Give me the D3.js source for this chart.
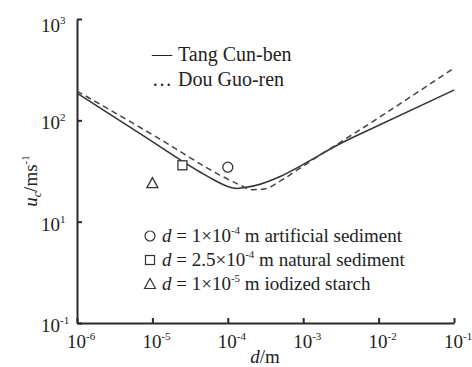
<!DOCTYPE html>
<html>
<head>
<meta charset="utf-8">
<script src="https://cdn.jsdelivr.net/npm/d3@7"></script>
<style>
  html, body { margin: 0; padding: 0; background: #fff; }
  svg { display: block; }
  svg text, svg tspan { font-family: "Liberation Serif" !important; }
</style>
</head>
<body>
<svg id="chart" width="472" height="367"></svg>
<script>
// Critical velocity curves (d in m, u_c in m/s)
const tangD = [1e-6, 6.86e-6, 4.28e-5, 6.76e-5, 9.75e-5, 1.32e-4, 1.69e-4, 4.18e-3, 1e-1];
const tangU = [186, 74.1, 30.9, 25.5, 22.4, 21.3, 21.7, 65.8, 199];
const douD = [1e-6, 1.26e-5, 7.88e-5, 1.45e-4, 2.09e-4, 3.02e-4, 5.24e-4, 9.07e-4, 1.04e-2, 1e-1];
const douU = [194.5, 65.3, 28.8, 23.0, 20.7, 21.0, 25.8, 33.8, 107.9, 328];

// Measured points
const pointD = [1e-4, 2.5e-5, 1e-5];
const pointU = [34.5, 36, 24];
const pointShape = ["circle", "square", "triangle"];

// Axis ticks and labels (exponent of 10)
const xTickValues = [1e-6, 1e-5, 1e-4, 1e-3, 1e-2, 1e-1];
const xTickExp = ["-6", "-5", "-4", "-3", "-2", "-1"];
const yTickValues = [1, 10, 100, 1000];
const yTickExp = ["-1", "1", "2", "3"];

// Legend texts
const lineLegend = [["—", "Tang Cun-ben"], ["…", "Dou Guo-ren"]];
const pointLegend = [
  ["1×10", "-4", " m artificial sediment"],
  ["2.5×10", "-4", " m natural sediment"],
  ["1×10", "-5", " m iodized starch"]
];

const plotLeft = 77, plotRight = 454, plotTop = 19, plotBottom = 323;
const ink = "#2a2a2a";
const txt = "#222";
const serifFace = '"Liberation Serif"';

function draw() {
  const svg = d3.select("#chart");
  svg.selectAll("*").remove();

  const x = d3.scaleLog().domain([1e-6, 1e-1]).range([plotLeft, plotRight]);
  const y = d3.scaleLog().domain([1, 1000]).range([plotBottom, plotTop]);

  // axes with inward ticks
  const xAxis = svg.append("g").attr("transform", `translate(0,${plotBottom})`)
    .call(d3.axisBottom(x).tickValues(xTickValues).tickSizeInner(-5).tickSizeOuter(0).tickFormat(""));
  const yAxis = svg.append("g").attr("transform", `translate(${plotLeft},0)`)
    .call(d3.axisLeft(y).tickValues(yTickValues).tickSizeInner(-5).tickSizeOuter(0).tickFormat(""));
  [xAxis, yAxis].forEach(g => {
    g.attr("font-family", null);
    g.selectAll("path.domain").attr("stroke", ink).attr("stroke-width", 2);
    g.selectAll(".tick line").attr("stroke", ink).attr("stroke-width", 2);
  });

  const texts = svg.append("g").attr("class", "texts");
  function addText(attrs) {
    const t = texts.append("text").attr("fill", txt);
    Object.entries(attrs).forEach(([k, v]) => t.attr(k, v));
    return t;
  }

  // x tick labels
  xTickValues.forEach((v, i) => {
    const t = addText({ x: x(v) - 10, y: 348, "font-size": 19 });
    t.append("tspan").text("10");
    t.append("tspan").attr("dy", -8).attr("font-size", 11).text(xTickExp[i]);
  });
  // y tick labels
  yTickValues.forEach((v, i) => {
    const yy = v === 1000 ? y(v) + 13 : y(v) + 9;
    const t = addText({ x: 41, y: yy, "font-size": 19 });
    t.append("tspan").text("10");
    t.append("tspan").attr("dy", -8).attr("font-size", 11).text(yTickExp[i]);
  });

  // axis titles
  const xt = addText({ x: 265, y: 363, "text-anchor": "middle", "font-size": 19 });
  xt.append("tspan").attr("font-style", "italic").text("d");
  xt.append("tspan").text("/m");

  const yt = addText({ transform: "translate(37,181) rotate(-90)", "text-anchor": "middle", "font-size": 19 });
  yt.append("tspan").attr("font-style", "italic").text("u");
  yt.append("tspan").attr("font-style", "italic").attr("font-size", 12).attr("dy", 4).text("c");
  yt.append("tspan").attr("dy", -4).text("/ms");
  yt.append("tspan").attr("font-size", 11).attr("dy", -8).text("-1");

  // curves
  const line = d3.line().x(d => x(d[0])).y(d => y(d[1])).curve(d3.curveMonotoneX);
  svg.append("path").datum(d3.zip(tangD, tangU))
    .attr("d", line).attr("fill", "none").attr("stroke", "#333").attr("stroke-width", 1.5);
  svg.append("path").datum(d3.zip(douD, douU))
    .attr("d", line).attr("fill", "none").attr("stroke", "#444").attr("stroke-width", 1.5)
    .attr("stroke-dasharray", "6,4");

  // markers
  function marker(g, shape, cx, cy) {
    if (shape === "circle") {
      g.append("circle").attr("cx", cx).attr("cy", cy).attr("r", 5);
    } else if (shape === "square") {
      g.append("rect").attr("x", cx - 4.5).attr("y", cy - 4.5).attr("width", 9).attr("height", 9);
    } else {
      g.append("path").attr("d", `M${cx - 5.5},${cy + 4.5}L${cx + 5.5},${cy + 4.5}L${cx},${cy - 5.5}Z`);
    }
  }
  const mg = svg.append("g").attr("fill", "#fff").attr("stroke", "#333").attr("stroke-width", 1.3);
  pointD.forEach((d, i) => marker(mg, pointShape[i], x(d), y(pointU[i])));

  // line legend
  lineLegend.forEach((row, i) => {
    const t = addText({ x: 152, y: 61 + i * 25, "font-size": 20 });
    t.append("tspan").text(row[0]);
    t.append("tspan").attr("x", 178).text(row[1]);
  });

  // point legend
  const lg = svg.append("g").attr("fill", "#fff").attr("stroke", "#333").attr("stroke-width", 1.2);
  pointLegend.forEach((row, i) => {
    const cy = 236 + i * 24;
    marker(lg, pointShape[i], 150, cy);
    const t = addText({ x: 162, y: cy + 6, "font-size": 19 });
    t.append("tspan").attr("font-style", "italic").text("d");
    t.append("tspan").text(" = " + row[0]);
    t.append("tspan").attr("dy", -8).attr("font-size", 11).text(row[1]);
    t.append("tspan").attr("dy", 8).text(row[2]);
  });

  // serif face on every text run, including nested spans
  svg.selectAll("text, tspan").style("font-family", serifFace).attr("font-family", serifFace);
}

draw();
</script>
</body>
</html>
